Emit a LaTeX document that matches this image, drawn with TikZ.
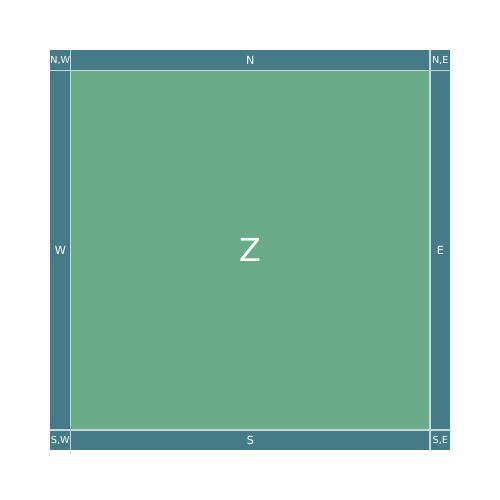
\documentclass[tikz,border=0pt]{standalone}
\usepackage{fontspec}
\setmainfont{DejaVu Sans}
\definecolor{edgeteal}{HTML}{457A89}
\definecolor{zonegreen}{HTML}{6AAC8A}
\definecolor{seamgray}{HTML}{C8D6D8}
\tikzset{
  cell/.style={fill=#1, draw=none, inner sep=0pt, anchor=north west, text=white},
  corner/.style={cell=edgeteal, minimum width=4mm, minimum height=4mm, font=\fontsize{5.5}{6}\selectfont},
  side/.style={cell=edgeteal, font=\fontsize{6.4}{7}\selectfont},
  seam/.style={seamgray, line width=0.8pt}
}
\begin{document}
\begin{tikzpicture}[x=0.2mm, y=-0.2mm]
	\useasboundingbox (0, 0) rectangle (500, 500);

	% corners
	\node[corner] (nw) at (50, 50) {N,W};
	\node[corner] (ne) at (430, 50) {N,E};
	\node[corner] (sw) at (50, 430) {S,W};
	\node[corner] (se) at (430, 430) {S,E};

	% sides
	\node[side, minimum width=72mm, minimum height=4mm] (n) at (70, 50) {N};
	\node[side, minimum width=72mm, minimum height=4mm] (s) at (70, 430) {S};
	\node[side, minimum width=4mm, minimum height=72mm] (w) at (50, 70) {W};
	\node[side, minimum width=4mm, minimum height=72mm] (e) at (430, 70) {E};

	% middle
	\node[cell=zonegreen, minimum width=72mm, minimum height=72mm, font=\fontsize{18}{20}\selectfont] (z) at (70, 70) {Z};

	% seams
	\draw[seam] (nw.south west) -- (ne.south east);
	\draw[seam] (sw.north west) -- (se.north east);
	\draw[seam] (nw.north east) -- (sw.south east);
	\draw[seam] (ne.north west) -- (se.south west);
\end{tikzpicture}
\end{document}
